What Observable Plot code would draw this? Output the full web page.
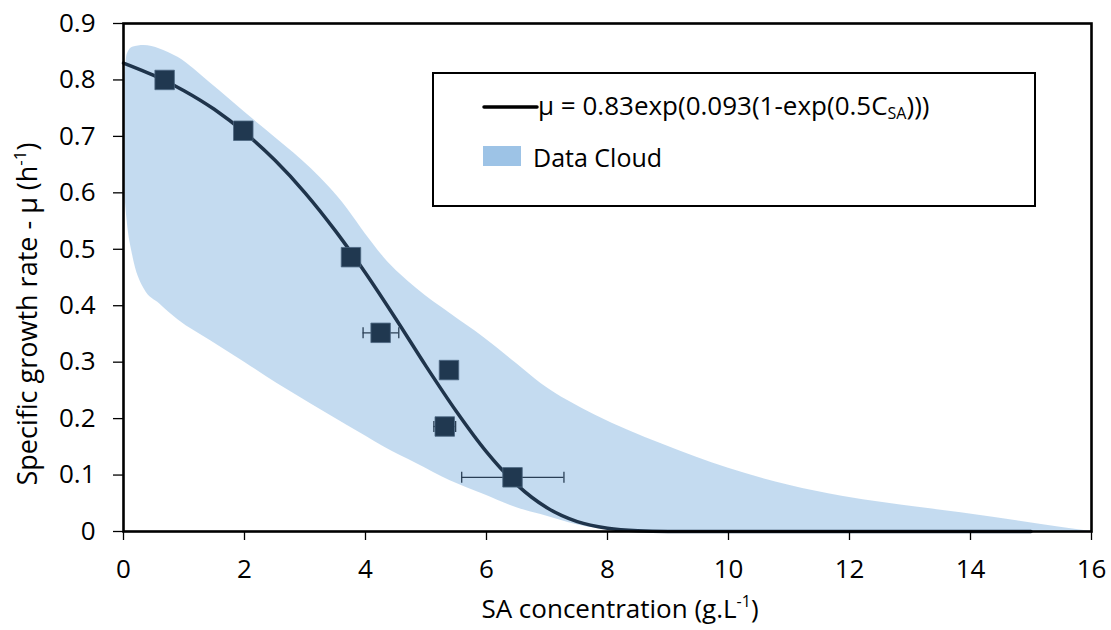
<!DOCTYPE html>
<html>
<head>
<meta charset="utf-8">
<script src="https://cdn.jsdelivr.net/npm/d3@7"></script>
<script src="https://cdn.jsdelivr.net/npm/@observablehq/plot@0.6"></script>
<style>
  html, body { margin: 0; padding: 0; background: #fff; }
  #chart { width: 1111px; height: 630px; }
</style>
</head>
<body>
<div id="chart"></div>
<script>
// ---- Data ----
// Measured points (SA concentration g/L, growth rate 1/h)
const pointX = [0.68, 1.98, 3.76, 4.25, 5.38, 5.31, 6.43];
const pointY = [0.800, 0.710, 0.486, 0.352, 0.286, 0.186, 0.096];
// Horizontal error bars (null = none visible)
const errLow  = [null, null, null, 3.96, null, 5.13, 5.59];
const errHigh = [null, null, null, 4.55, null, 5.49, 7.28];

// Fitted model curve
const fitX = [0, 0.5, 1, 1.5, 2, 2.5, 3, 3.5, 4, 4.5, 5, 5.5, 6, 6.5, 7, 7.5, 8, 8.5, 9, 10, 11, 12, 13, 14, 15];
const fitY = [0.830, 0.808, 0.781, 0.748, 0.707, 0.658, 0.600, 0.533, 0.458, 0.377, 0.293, 0.213, 0.141, 0.083, 0.042, 0.0175, 0.0057, 0.0013, 0.0002, 0, 0, 0, 0, 0, 0];

// Data cloud envelope
const cloudX    = [0.02, 0.06, 0.15, 0.34, 0.6, 0.9, 1.44, 2.0, 2.54, 3.1, 3.7, 4.0, 4.3, 4.85, 5.4, 5.95, 6.5, 6.9, 7.8, 8.9, 10, 11, 11.9, 13.2, 14.4, 15.2, 16];
const cloudHigh = [0.80, 0.845, 0.858, 0.861, 0.855, 0.84, 0.794, 0.743, 0.695, 0.643, 0.572, 0.527, 0.486, 0.430, 0.386, 0.344, 0.297, 0.262, 0.206, 0.155, 0.112, 0.082, 0.062, 0.042, 0.025, 0.012, 0];
const cloudLow  = [0.60, 0.55, 0.49, 0.43, 0.403, 0.375, 0.338, 0.300, 0.262, 0.226, 0.188, 0.169, 0.150, 0.120, 0.090, 0.066, 0.042, 0.030, 0.006, 0, 0, 0, 0, 0, 0, 0, 0];

const xTicks = [0, 2, 4, 6, 8, 10, 12, 14, 16];
const yTicks = [0, 0.1, 0.2, 0.3, 0.4, 0.5, 0.6, 0.7, 0.8, 0.9];

// ---- Build tables ----
const points = pointX.map((x, i) => ({x, y: pointY[i], lo: errLow[i], hi: errHigh[i]}));
const errs = points.filter(d => d.lo != null);
const fit = fitX.map((x, i) => ({x, y: fitY[i]}));
const cloud = cloudX.map((x, i) => ({x, lo: cloudLow[i], hi: cloudHigh[i]}));

const capSymbol = {
  draw(ctx, size) { ctx.moveTo(0, -5.5); ctx.lineTo(0, 5.5); }
};

const lineColor = "#1f344b";
const markColor = "#203850";
const font = "'Open Sans', sans-serif";

const chart = Plot.plot({
  width: 1111,
  height: 630,
  marginLeft: 123,
  marginRight: 20,
  marginTop: 23,
  marginBottom: 99,
  style: {fontFamily: font, fontSize: "26px", color: "#000", background: "#fff"},
  x: {domain: [0, 16]},
  y: {domain: [0, 0.9]},
  marks: [
    Plot.areaY(cloud, {x: "x", y1: "lo", y2: "hi", fill: "#9dc3e6", fillOpacity: 0.6, curve: "monotone-x"}),
    Plot.line(fit, {x: "x", y: "y", stroke: lineColor, strokeWidth: 3.5, curve: "monotone-x"}),
    Plot.ruleY(errs, {y: "y", x1: "lo", x2: "hi", stroke: "#2a3f55", strokeWidth: 1.3}),
    Plot.dot(errs, {x: "lo", y: "y", symbol: capSymbol, stroke: "#2a3f55", strokeWidth: 1.3, fill: "none"}),
    Plot.dot(errs, {x: "hi", y: "y", symbol: capSymbol, stroke: "#2a3f55", strokeWidth: 1.3, fill: "none"}),
    Plot.dot(points, {x: "x", y: "y", symbol: "square", r: 11, fill: markColor, stroke: "#4d6782", strokeWidth: 0.8}),
    Plot.frame({stroke: "#000", strokeWidth: 2.6}),
    Plot.axisX({ticks: xTicks, tickSize: 9, tickPadding: 19, tickFormat: d => String(d), label: null, stroke: "#000", strokeWidth: 1.3}),
    Plot.axisY({ticks: yTicks, tickSize: 10, tickPadding: 18, tickFormat: d => d === 0 ? "0" : d3.format(".1f")(d), label: null, stroke: "#000", strokeWidth: 1.3})
  ]
});

document.getElementById("chart").appendChild(chart);

// ---- Titles and legend ----
const svg = d3.select(chart);

// X title
const xt = svg.append("text")
  .attr("x", 620).attr("y", 618).attr("text-anchor", "middle")
  .attr("font-family", font).attr("font-size", 26).attr("fill", "#000");
xt.append("tspan").text("SA concentration (g.L");
xt.append("tspan").attr("dy", -11).attr("font-size", 16).text("-1");
xt.append("tspan").attr("dy", 11).text(")");

// Y title
const yt = svg.append("text")
  .attr("transform", "translate(37,314) rotate(-90)").attr("text-anchor", "middle")
  .attr("font-family", font).attr("font-size", 27).attr("fill", "#000");
yt.append("tspan").text("Specific growth rate - μ (h");
yt.append("tspan").attr("dy", -11).attr("font-size", 17).text("-1");
yt.append("tspan").attr("dy", 11).text(")");

// Legend
const lg = svg.append("g");
lg.append("rect").attr("x", 433).attr("y", 73).attr("width", 602).attr("height", 133)
  .attr("fill", "#fff").attr("stroke", "#000").attr("stroke-width", 2);
lg.append("line").attr("x1", 484).attr("x2", 537).attr("y1", 107).attr("y2", 107)
  .attr("stroke", "#000").attr("stroke-width", 3.5).attr("stroke-linecap", "round");
const lt = lg.append("text").attr("x", 538).attr("y", 115).attr("text-anchor", "start")
  .attr("font-family", font).attr("font-size", 26).attr("fill", "#000");
lt.append("tspan").text("μ = 0.83exp(0.093(1-exp(0.5C");
lt.append("tspan").attr("dy", 4).attr("font-size", 16).text("SA");
lt.append("tspan").attr("dy", -4).text(")))");
lg.append("rect").attr("x", 483).attr("y", 146).attr("width", 38).attr("height", 20).attr("fill", "#9dc3e6");
lg.append("text").attr("x", 533).attr("y", 167).attr("text-anchor", "start")
  .attr("font-family", font).attr("font-size", 25).attr("fill", "#000").text("Data Cloud");
</script>
</body>
</html>
